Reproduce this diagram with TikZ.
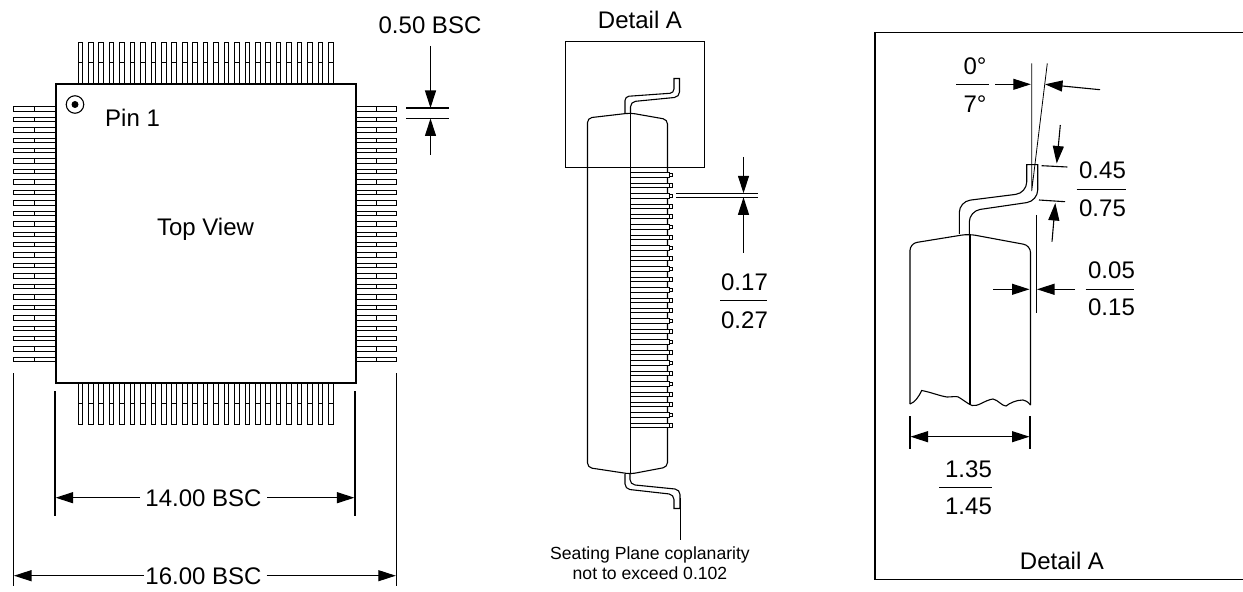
\documentclass[tikz,border=0pt]{standalone}
\usepackage{fontspec}
\setmainfont{Liberation Sans}
\usetikzlibrary{arrows.meta}
\tikzset{
  ln/.style={line width=1.1bp,black},
  thick box/.style={line width=1.6bp,black},
  lead/.style={line width=1bp,black,fill=white},
  tip/.style={-{Triangle[length=17.5bp,width=11bp]}},
  lbl/.style={inner sep=0pt,font=\fontsize{24bp}{26bp}\selectfont},
  small lbl/.style={inner sep=0pt,font=\fontsize{17.6bp}{20bp}\selectfont},
}
\begin{document}
\begin{tikzpicture}[x=1bp,y=-1bp]
\useasboundingbox (0,0) rectangle (1243,592);
% --- top view leads
\foreach \i in {0,...,24}{
  \pgfmathsetmacro\p{78+10.44*\i}
  \pgfmathsetmacro\q{\p+4.6}
  \draw[lead] (\p,83) -- (\p,43) -- (\q,43) -- (\q,83);
  \draw[lead] (\p,63) -- (\q,63);
  \draw[lead] (\p,382) -- (\p,424) -- (\q,424) -- (\q,382);
  \draw[lead] (\p,403) -- (\q,403);
  \pgfmathsetmacro\r{106.8+10.44*\i}
  \pgfmathsetmacro\s{\r+4.4}
  \draw[lead] (55,\r) -- (13.5,\r) -- (13.5,\s) -- (55,\s);
  \draw[lead] (34,\r) -- (34,\s);
  \draw[lead] (355,\r) -- (396.5,\r) -- (396.5,\s) -- (355,\s);
  \draw[lead] (376,\r) -- (376,\s);
}
\node[draw,thick box,fill=white,minimum width=300bp,minimum height=299bp,inner sep=0pt,anchor=north west] (pkg) at (55,83) {};
\node[draw,ln,circle,minimum size=17.5bp,inner sep=0pt] (pinring) at (75,104.5) {};
\node[circle,fill=black,minimum size=7bp,inner sep=0pt] (pindot) at (75,104.5) {};
\node[lbl,anchor=west] (pin1) at (105,118) {Pin 1};
\node[lbl] (topview) at (205.5,229) {Top View};
% 0.50 BSC
\coordinate (a1) at (406,108); \coordinate (a2) at (449,108);
\coordinate (b1) at (406,118.5); \coordinate (b2) at (449,118.5);
\draw[ln] (a1) -- (a2); \draw[ln] (b1) -- (b2);
\coordinate (c1) at (430.5,46); \coordinate (c2) at (430.5,108);
\coordinate (d1) at (430.5,155); \coordinate (d2) at (430.5,118.5);
\draw[ln,tip] (c1) -- (c2);
\draw[ln,tip] (d1) -- (d2);
\node[lbl] (bsc50) at (430,25) {0.50 BSC};
% bottom dims
\coordinate (e1) at (55,391); \coordinate (e2) at (55,516);
\coordinate (f1) at (355,391); \coordinate (f2) at (355,516);
\draw[ln] (e1) -- (e2); \draw[ln] (f1) -- (f2);
\coordinate (g1) at (13.3,373); \coordinate (g2) at (13.3,586);
\coordinate (h1) at (396.5,373); \coordinate (h2) at (396.5,586);
\draw[ln] (g1) -- (g2); \draw[ln] (h1) -- (h2);
\node[lbl] (bsc14) at (203.5,498) {14.00 BSC};
\node[lbl] (bsc16) at (203.5,576.5) {16.00 BSC};
\coordinate (e0) at (140,497.7); \coordinate (f0) at (267,497.7);
\coordinate (g0) at (143.5,575.7); \coordinate (h0) at (266.7,575.7);
\coordinate (e3) at (55.6,497.7); \coordinate (f3) at (354.4,497.7);
\coordinate (g3) at (14,575.7); \coordinate (h3) at (395.8,575.7);
\draw[ln,tip] (e0) -- (e3);
\draw[ln,tip] (f0) -- (f3);
\draw[ln,tip] (g0) -- (g3);
\draw[ln,tip] (h0) -- (h3);
% --- side view
\node[draw,line width=1.2bp,minimum width=139bp,minimum height=126bp,inner sep=0pt,anchor=north west] (detbox) at (565,41) {};
\node[lbl] (detlabel) at (640,20) {Detail A};
\draw[ln] (625,113) [rounded corners=4bp] -- (625,96.5) -- (674,93) [sharp corners] -- (674,78.5) -- (679.5,78.5) [rounded corners=5bp] -- (679.5,97) -- (630.5,101.8) [sharp corners] -- (630.5,113);
\draw[ln,rounded corners=4.5bp] (587.5,300) -- (587.5,118) -- (630.5,113) -- (667.5,119.5) -- (667.5,300);
\draw[ln,rounded corners=4.5bp] (587.5,300) -- (587.5,467.5) -- (630.5,474) -- (667.5,467) -- (667.5,300);
\draw[ln] (630.5,113) -- (630.5,474);
\foreach \i in {0,...,24}{
  \pgfmathsetmacro\r{172.8+10.44*\i}
  \pgfmathsetmacro\s{\r+4.4}
  \draw[lead] (630.5,\r) -- (669.5,\r) -- (669.5,\s) -- (630.5,\s);
  \draw[lead] (669.5,\r+.4) -- (672.7,\r+.4) -- (672.7,\s-.4) -- (669.5,\s-.4);
}
\draw[ln] (625,474) [rounded corners=5bp] -- (625,489) -- (674,494.5) [sharp corners] -- (674,508.5) -- (680,508.5) [rounded corners=5bp] -- (680,489.5) -- (630,484.5) [sharp corners] -- (630,474);
\coordinate (sp1) at (680.5,498); \coordinate (sp2) at (680.5,540);
\draw[ln] (sp1) -- (sp2);
\node[small lbl] (seat1) at (650,555) {Seating Plane coplanarity};
\node[small lbl] (seat2) at (650,573) {not to exceed 0.102};
% 0.17/0.27
\coordinate (i1) at (676,193.3); \coordinate (i2) at (758,193.3);
\coordinate (j1) at (676,197.3); \coordinate (j2) at (758,197.3);
\draw[ln] (i1) -- (i2); \draw[ln] (j1) -- (j2);
\coordinate (k1) at (743.5,157); \coordinate (k2) at (743.5,193.3);
\coordinate (l1) at (743.5,253); \coordinate (l2) at (743.5,197.3);
\draw[ln,tip] (k1) -- (k2); \draw[ln,tip] (l1) -- (l2);
\node[lbl] (v017) at (744.5,282) {0.17};
\node[lbl] (v027) at (744.5,320) {0.27};
\coordinate (m1) at (720,300.5); \coordinate (m2) at (767,300.5);
\draw[ln] (m1) -- (m2);
% --- Detail A panel (open at the right edge)
\coordinate (pa) at (1243,32.3); \coordinate (pb) at (875,32.3);
\coordinate (pc) at (875,579.3); \coordinate (pd) at (1243,579.3);
\draw[line width=1.3bp] (pa) -- (pb) -- (pc) -- (pd);
\node[lbl] (detlabel2) at (1062,560.7) {Detail A};
% lead
\draw[ln] (959.3,234) [rounded corners=11bp] -- (959.3,201.5) -- (1026.7,193) [sharp corners] -- (1026.7,164.7) -- (1037.7,164.7) [rounded corners=11bp] -- (1037.7,201) -- (969.3,211) [sharp corners] -- (969.3,234);
% body
\draw[ln,rounded corners=7bp] (910,404) -- (910,243.5) -- (968.5,234) -- (1030.5,245.5) -- (1030.5,405);
\draw[ln] (970,234) -- (970,405);
\draw[ln] (910,404) .. controls (915,402) and (918,398) .. (921.7,390.5) .. controls (930,392) and (940,396) .. (947,397) .. controls (952,397) and (956,396) .. (958.3,397) .. controls (962,399) and (968,404) .. (972,405.5) .. controls (978,407) and (985,400) .. (993,399) .. controls (998,400) and (1002,406) .. (1006,406) .. controls (1010,403) and (1016,400) .. (1023,400) .. controls (1027,401) and (1029,403) .. (1030.5,405);
% angle lines
\coordinate (n0) at (1031.7,191);
\coordinate (n1) at (1031.7,63.3); \coordinate (n2) at (1047.3,63.3);
\draw[line width=.8bp] (n1) -- (n0) -- (n2);
\coordinate (o1) at (995,84.3); \coordinate (o2) at (1030.8,84.3);
\coordinate (p1) at (1100,89.7); \coordinate (p2) at (1045,84.3);
\draw[ln,tip] (o1) -- (o2); \draw[ln,tip] (p1) -- (p2);
\node[lbl] (v0) at (975,66.7) {0°};
\node[lbl] (v7) at (975,104.5) {7°};
\coordinate (q1) at (956,84.3); \coordinate (q2) at (988.7,84.3);
\draw[ln] (q1) -- (q2);
% 0.45/0.75
\coordinate (r1) at (1041.7,165.7); \coordinate (r2) at (1067.3,167);
\coordinate (s1) at (1039,200); \coordinate (s2) at (1065,201.7);
\draw[ln] (r1) -- (r2); \draw[ln] (s1) -- (s2);
\coordinate (t1) at (1060.3,125); \coordinate (t2) at (1056.7,163.5);
\coordinate (u1) at (1052,241.7); \coordinate (u2) at (1055.3,203);
\draw[ln,tip] (t1) -- (t2); \draw[ln,tip] (u1) -- (u2);
\node[lbl] (v045) at (1102.5,170) {0.45};
\node[lbl] (v075) at (1102.5,208) {0.75};
\coordinate (w1) at (1076.7,189.3); \coordinate (w2) at (1126,189.3);
\draw[ln] (w1) -- (w2);
% 0.05/0.15
\coordinate (x1) at (1036.3,215); \coordinate (x2) at (1036.3,313);
\draw[ln] (x1) -- (x2);
\coordinate (y1) at (993.3,289.3); \coordinate (y2) at (1029.5,289.3);
\coordinate (z1) at (1075,289.3); \coordinate (z2) at (1037,289.3);
\draw[ln,tip] (y1) -- (y2); \draw[ln,tip] (z1) -- (z2);
\node[lbl] (v005) at (1111.5,270) {0.05};
\node[lbl] (v015) at (1111.5,307.3) {0.15};
\coordinate (aa1) at (1085.7,289.3); \coordinate (aa2) at (1134,289.3);
\draw[ln] (aa1) -- (aa2);
% 1.35/1.45
\coordinate (ab1) at (910,416); \coordinate (ab2) at (910,449);
\coordinate (ac1) at (1030,416); \coordinate (ac2) at (1030,449);
\draw[ln] (ab1) -- (ab2); \draw[ln] (ac1) -- (ac2);
\coordinate (ad) at (970,436.7);
\coordinate (ab3) at (910.5,436.7); \coordinate (ac3) at (1029.5,436.7);
\draw[ln,tip] (ad) -- (ab3); \draw[ln,tip] (ad) -- (ac3);
\node[lbl] (v135) at (968.5,469.3) {1.35};
\node[lbl] (v145) at (968.5,506.7) {1.45};
\coordinate (ae1) at (939,487.3); \coordinate (ae2) at (992,487.3);
\draw[ln] (ae1) -- (ae2);
\end{tikzpicture}
\end{document}
